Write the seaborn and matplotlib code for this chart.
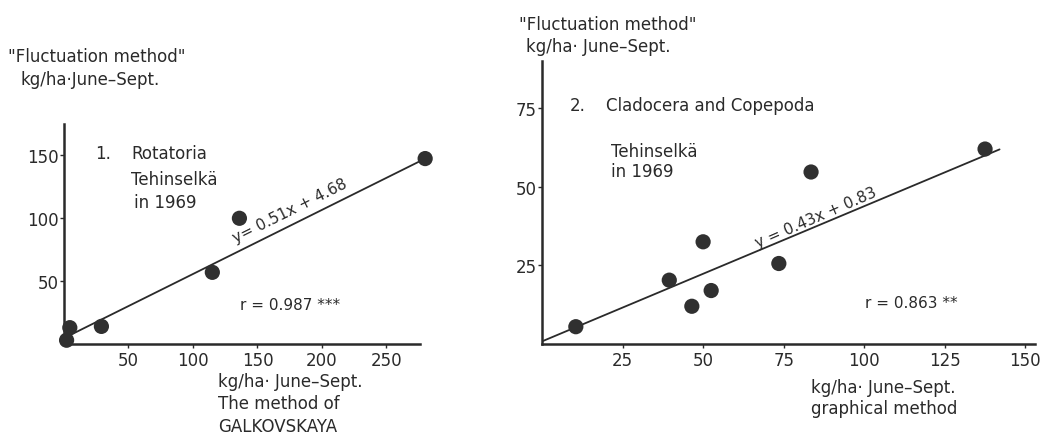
import numpy as np
import pandas as pd
import matplotlib
matplotlib.use("Agg")
import matplotlib.pyplot as plt
import seaborn as sns

# Panel 1: Rotatoria, Tehinselkä 1969
rot_x = [2, 4.5, 29, 115, 136, 280]
rot_y = [3, 13, 14, 57, 100, 147.5]
rot_slope, rot_intercept = 0.51, 4.68
rot_xticks = [50, 100, 150, 200, 250]
rot_yticks = [50, 100, 150]

# Panel 2: Cladocera and Copepoda, Tehinselkä 1969
cla_x = [10.5, 39.5, 46.5, 50, 52.5, 73.5, 83.5, 137.5]
cla_y = [5.5, 20.3, 12, 32.5, 17, 25.6, 54.7, 62]
cla_slope, cla_intercept = 0.43, 0.83
cla_xticks = [25, 50, 75, 100, 125, 150]
cla_yticks = [25, 50, 75]

sns.set_theme(style="ticks")
plt.rcParams["font.family"] = ["DejaVu Sans"]
ink = "#2a2a2a"
plt.rcParams.update({
    "text.color": ink, "axes.edgecolor": ink, "xtick.color": ink,
    "ytick.color": ink, "axes.linewidth": 1.8,
    "xtick.major.size": 3, "ytick.major.size": 3,
    "xtick.major.width": 1, "ytick.major.width": 1,
    "xtick.major.pad": 2, "ytick.major.pad": 1,
    "xtick.labelsize": 12, "ytick.labelsize": 12,
})

W, H = 1042, 435
fig = plt.figure(figsize=(W / 100, H / 100), dpi=100)
fig.patch.set_facecolor("white")


def box(x0, y0, x1, y1):
    return [x0 / W, 1 - y1 / H, (x1 - x0) / W, (y1 - y0) / H]


def panel(ax, xs, ys, slope, intercept, x_end, xlim, ylim, xt, yt):
    df = pd.DataFrame({"x": xs, "y": ys})
    fit = pd.DataFrame({"x": [0.0, x_end]})
    fit["y"] = slope * fit["x"] + intercept
    sns.lineplot(data=fit, x="x", y="y", ax=ax, color=ink, lw=1.3)
    sns.scatterplot(data=df, x="x", y="y", ax=ax, color="#303030",
                    s=120, edgecolor="none", zorder=5, clip_on=False)
    ax.set_xlim(*xlim)
    ax.set_ylim(*ylim)
    ax.set_xticks(xt)
    ax.set_yticks(yt)
    ax.set_xlabel("")
    ax.set_ylabel("")
    ax.set_facecolor("white")
    sns.despine(ax=ax)


# ---- left panel
ax1 = fig.add_axes(box(64, 125, 420, 345))
panel(ax1, rot_x, rot_y, rot_slope, rot_intercept, 280,
      (0, 276), (0, 175), rot_xticks, rot_yticks)

fs = 12
fig.text(8 / W, 1 - 57 / H, "\"Fluctuation method\"", fontsize=fs, va="center")
fig.text(20 / W, 1 - 80 / H, "kg/ha\u00b7June\u2013Sept.", fontsize=fs, va="center")
fig.text(95 / W, 1 - 154 / H, "1.", fontsize=fs, va="center")
fig.text(131 / W, 1 - 154 / H, "Rotatoria", fontsize=fs, va="center")
fig.text(131 / W, 1 - 180 / H, "Tehinselkä", fontsize=fs, va="center")
fig.text(134 / W, 1 - 203 / H, "in 1969", fontsize=fs, va="center")
ax1.text(178, 101, f"y= {rot_slope}x + {rot_intercept}", fontsize=11,
         rotation=26.5, rotation_mode="anchor", ha="center", va="bottom")
fig.text(240 / W, 1 - 305 / H, "r = 0.987 ***", fontsize=11, va="center")
fig.text(218 / W, 1 - 382 / H, "kg/ha\u00b7 June\u2013Sept.", fontsize=fs, va="center")
fig.text(218 / W, 1 - 404 / H, "The method of", fontsize=fs, va="center")
fig.text(218 / W, 1 - 427 / H, "GALKOVSKAYA", fontsize=fs, va="center")

# ---- right panel
ax2 = fig.add_axes(box(542, 62, 1035, 345))
panel(ax2, cla_x, cla_y, cla_slope, cla_intercept, 142,
      (0, 153), (0, 90), cla_xticks, cla_yticks)

fig.text(519 / W, 1 - 25 / H, "\"Fluctuation method\"", fontsize=fs, va="center")
fig.text(526 / W, 1 - 47 / H, "kg/ha\u00b7 June\u2013Sept.", fontsize=fs, va="center")
fig.text(570 / W, 1 - 106 / H, "2.", fontsize=fs, va="center")
fig.text(606 / W, 1 - 106 / H, "Cladocera and Copepoda", fontsize=fs, va="center")
fig.text(611 / W, 1 - 152 / H, "Tehinselkä", fontsize=fs, va="center")
fig.text(611 / W, 1 - 172 / H, "in 1969", fontsize=fs, va="center")
ax2.text(86, 38.2, f"y = {cla_slope}x + {cla_intercept}", fontsize=11,
         rotation=23.5, rotation_mode="anchor", ha="center", va="bottom")
fig.text(865 / W, 1 - 304 / H, "r = 0.863 **", fontsize=11, va="center")
fig.text(811 / W, 1 - 388 / H, "kg/ha\u00b7 June\u2013Sept.", fontsize=fs, va="center")
fig.text(811 / W, 1 - 409 / H, "graphical method", fontsize=fs, va="center")

fig.savefig("out.png", dpi=100, facecolor="white")
